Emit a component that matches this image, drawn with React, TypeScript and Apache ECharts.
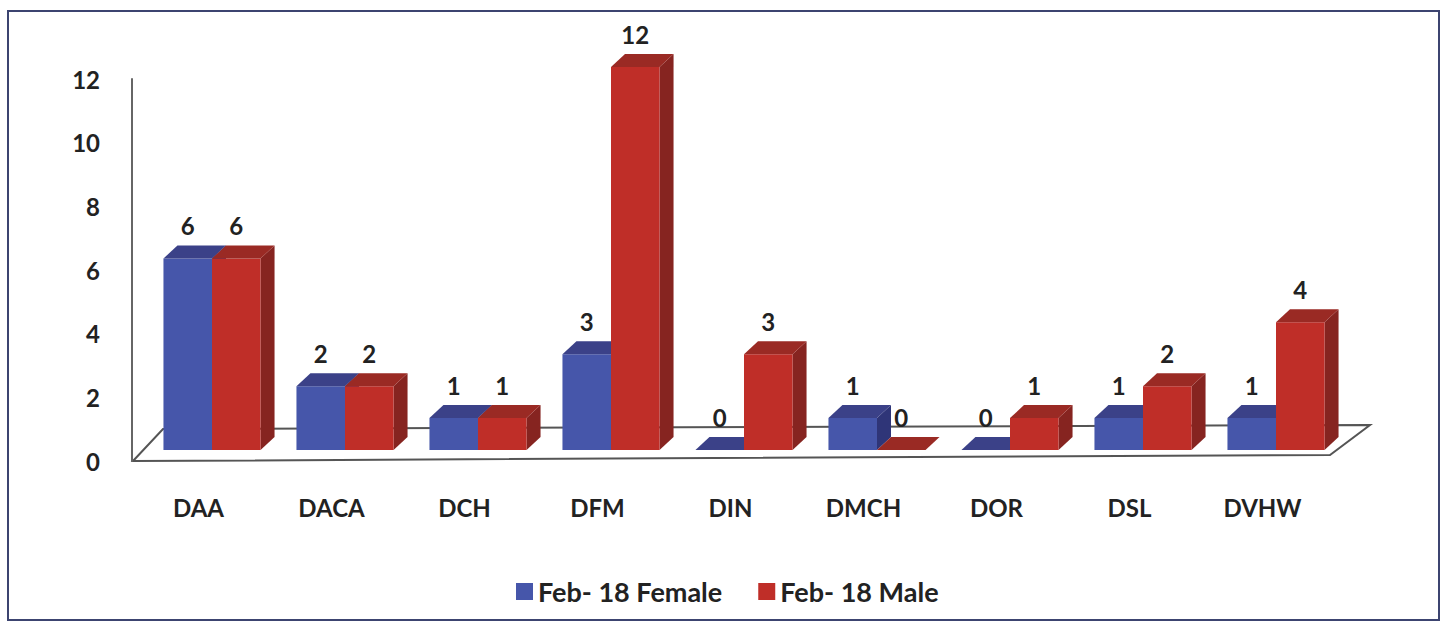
import React, { useEffect, useRef } from "react";
import * as echarts from "echarts";

const categories = ["DAA", "DACA", "DCH", "DFM", "DIN", "DMCH", "DOR", "DSL", "DVHW"];
const femaleValues = [6, 2, 1, 3, 0, 1, 0, 1, 1];
const maleValues = [6, 2, 1, 12, 3, 0, 1, 2, 4];
const seriesNames = ["Feb- 18 Female", "Feb- 18 Male"];
const yMin = 0;
const yMax = 12;
const yStep = 2;

const FONT = "Lato, 'Open Sans', sans-serif";
const DX = 14;
const DY = -13;

function makeRender(side: number, front: string, topC: string, sideC: string) {
  return (params: any, api: any) => {
    const ci = api.value(0);
    const v = api.value(1);
    const base = api.coord([ci, 0]);
    const top = api.coord([ci, v]);
    const band = api.size([1, 0])[0];
    const w = band * 0.365;
    const x0 = side < 0 ? base[0] - w : base[0];
    const x1 = x0 + w;
    const yT = top[1];
    const yB = base[1];
    return {
      type: "group",
      children: [
        {
          type: "polygon",
          shape: { points: [[x1, yT], [x1 + DX, yT + DY], [x1 + DX, yB + DY], [x1, yB]] },
          style: { fill: sideC },
        },
        {
          type: "rect",
          shape: { x: x0, y: yT, width: w, height: yB - yT },
          style: { fill: front },
        },
        {
          type: "polygon",
          shape: { points: [[x0, yT], [x0 + DX, yT + DY], [x1 + DX, yT + DY], [x1, yT]] },
          style: { fill: topC },
        },
        {
          type: "text",
          style: {
            text: String(v),
            x: (x0 + x1) / 2,
            y: yT + DY - 8,
            align: "center",
            verticalAlign: "bottom",
            fontSize: 24,
            fontFamily: FONT,
            fontWeight: "bold",
            fill: "#222",
          },
        },
      ],
    };
  };
}

export default function App() {
  const ref = useRef<HTMLDivElement>(null);
  useEffect(() => {
    if (!ref.current) return;
    const chart = echarts.init(ref.current, undefined, { renderer: "svg" });
    const option: any = {
      animation: false,
      backgroundColor: "#ffffff",
      grid: [
        { left: 145.5, width: 1197, top: 67, height: 383 },
        { left: 132, width: 1197, top: 79, height: 382 },
      ],
      xAxis: [
        { type: "category", gridIndex: 0, data: categories, show: false },
        {
          type: "category",
          gridIndex: 1,
          data: categories,
          axisLine: { show: false },
          axisTick: { show: false },
          axisLabel: {
            margin: 34,
            fontSize: 24,
            fontFamily: FONT,
            fontWeight: "bold",
            color: "#222",
          },
        },
      ],
      yAxis: [
        { type: "value", gridIndex: 0, min: yMin, max: yMax, show: false },
        {
          type: "value",
          gridIndex: 1,
          min: yMin,
          max: yMax,
          interval: yStep,
          axisLine: { show: true, lineStyle: { color: "#666", width: 2 } },
          axisTick: { show: false },
          splitLine: { show: false },
          axisLabel: {
            margin: 32,
            fontSize: 24,
            fontFamily: FONT,
            fontWeight: "bold",
            color: "#222",
          },
        },
      ],
      legend: {
        left: 511,
        top: 573,
        itemWidth: 17,
        itemHeight: 17,
        itemGap: 36,
        icon: "rect",
        textStyle: { fontSize: 27, fontFamily: FONT, fontWeight: "bold", color: "#222" },
        data: seriesNames,
      },
      graphic: [
        {
          type: "rect",
          shape: { x: 8, y: 11, width: 1431, height: 609 },
          style: { fill: "none", stroke: "#3c4470", lineWidth: 2 },
          z: -10,
        },
        {
          type: "polygon",
          shape: { points: [[133, 461], [163, 429], [1370, 425], [1330, 455]] },
          style: { fill: "#ffffff", stroke: "#555", lineWidth: 2 },
          z: -5,
        },
      ],
      series: [
        {
          type: "custom",
          name: seriesNames[0],
          xAxisIndex: 0,
          yAxisIndex: 0,
          color: "#4656aa",
          renderItem: makeRender(-1, "#4656aa", "#3b4188", "#2f3578"),
          encode: { x: 0, y: 1 },
          data: femaleValues.map((v, i) => [i, v]),
          z: 2,
        },
        {
          type: "custom",
          name: seriesNames[1],
          xAxisIndex: 0,
          yAxisIndex: 0,
          color: "#bf2e28",
          renderItem: makeRender(1, "#bf2e28", "#9a2a24", "#862420"),
          encode: { x: 0, y: 1 },
          data: maleValues.map((v, i) => [i, v]),
          z: 3,
        },
      ],
    };
    chart.setOption(option);
    return () => chart.dispose();
  }, []);
  return (
    <div
      ref={ref}
      style={{ position: "fixed", left: 0, top: 0, width: 1447, height: 623 }}
    />
  );
}
